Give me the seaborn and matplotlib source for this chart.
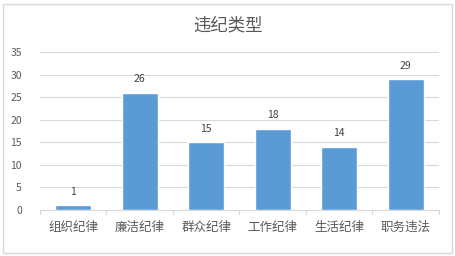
import matplotlib
matplotlib.use("Agg")
import matplotlib.pyplot as plt
import seaborn as sns
import pandas as pd
from matplotlib.patches import Rectangle

categories = ["组织纪律", "廉洁纪律", "群众纪律", "工作纪律", "生活纪律", "职务违法"]
values = [1, 26, 15, 18, 14, 29]
title = "违纪类型"

sns.set_style("white")
plt.rcParams['font.family'] = ['Noto Sans CJK SC', 'DejaVu Sans']

df = pd.DataFrame({"cat": categories, "val": values})
fig = plt.figure(figsize=(4.56, 2.56), dpi=100)
ax = fig.add_axes([40/456, 1-210/256, 399/456, 158/256])
sns.barplot(data=df, x="cat", y="val", color="#5b9bd5", width=0.54, ax=ax, saturation=1)
ax.set_ylim(0, 35)
ax.set_yticks(range(0, 36, 5))
ax.yaxis.grid(True, color="#d9d9d9", linewidth=0.8)
ax.set_axisbelow(True)
for s in ["top", "right", "left"]:
    ax.spines[s].set_visible(False)
ax.spines["bottom"].set_color("#d9d9d9")
ax.spines["bottom"].set_linewidth(0.8)
ax.set_xlabel("")
ax.set_ylabel("")
ax.tick_params(axis="y", length=0, labelsize=7.5, labelcolor="#595959", pad=13)
ax.tick_params(axis="x", length=0, labelsize=9, labelcolor="#595959", pad=8)
n = len(categories)
ax.set_xlim(-0.5, n - 0.5)
for i in range(n + 1):
    ax.plot([i - 0.5, i - 0.5], [0, -0.9], color="#d9d9d9", lw=0.8, clip_on=False)
for c in ax.containers:
    ax.bar_label(c, labels=[str(v) for v in values], padding=6, fontsize=7.5, color="#404040")
fig.text(0.5, 1-25/256, title, ha="center", va="center", fontsize=12.5, color="#595959")
fig.patches.append(Rectangle((3/456, 3/256), 449/456, 249/256, transform=fig.transFigure,
                             fill=False, edgecolor="#d9d9d9", linewidth=1))
fig.savefig("out.png", dpi=100)
